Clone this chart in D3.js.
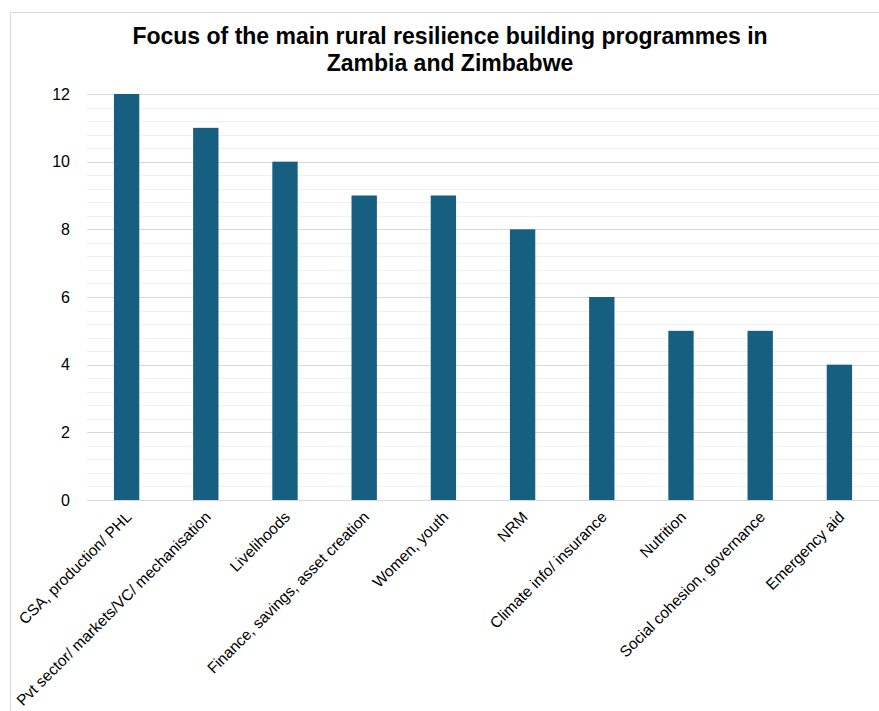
<!DOCTYPE html>
<html>
<head>
<meta charset="utf-8">
<script src="https://cdn.jsdelivr.net/npm/d3@7"></script>
<style>
  body { margin: 0; background: #fff; }
  svg { display: block; font-family: "Liberation Sans", Arial, sans-serif; }
</style>
</head>
<body>
<svg id="chart" width="879" height="711"></svg>
<script>
const categories = [
  "CSA, production/ PHL",
  "Pvt sector/ markets/VC/ mechanisation",
  "Livelihoods",
  "Finance, savings, asset creation",
  "Women, youth",
  "NRM",
  "Climate info/ insurance",
  "Nutrition",
  "Social cohesion, governance",
  "Emergency aid"
];
const counts = [12, 11, 10, 9, 9, 8, 6, 5, 5, 4];
const yTicks = [0, 2, 4, 6, 8, 10, 12];
const titleLines = ["Focus of the main rural resilience building programmes in", "Zambia and Zimbabwe"];

const svg = d3.select("#chart"),
    width = +svg.attr("width"),
    height = +svg.attr("height");

// outer frame, cropped at right and bottom like the original
svg.append("rect")
    .attr("x", 10.5).attr("y", 12.5)
    .attr("width", width + 20).attr("height", height + 20)
    .attr("fill", "#fff")
    .attr("stroke", "#d9d9d9");

const margin = {left: 87, right: 0, top: 94, bottom: 211};

const x = d3.scaleBand()
    .domain(categories)
    .range([margin.left, width - margin.right])
    .paddingInner(0.68)
    .paddingOuter(0.34);

const y = d3.scaleLinear()
    .domain([0, 12])
    .range([height - margin.bottom, margin.top]);

// minor gridlines
svg.append("g")
    .selectAll("line")
    .data(d3.range(0, 12.001, 0.4).filter(v => Math.abs(v / 2 - Math.round(v / 2)) > 1e-6))
    .enter().append("line")
    .attr("x1", margin.left).attr("x2", width)
    .attr("y1", d => Math.round(y(d)) + 0.5).attr("y2", d => Math.round(y(d)) + 0.5)
    .attr("stroke", "#f0f0f0");

// major gridlines
svg.append("g")
    .selectAll("line")
    .data(yTicks)
    .enter().append("line")
    .attr("x1", margin.left).attr("x2", width)
    .attr("y1", d => Math.round(y(d)) + 0.5).attr("y2", d => Math.round(y(d)) + 0.5)
    .attr("stroke", "#d9d9d9");

// y axis labels
const yAxis = svg.append("g")
    .attr("transform", "translate(" + (margin.left - 17) + ",0)")
    .call(d3.axisLeft(y).tickValues(yTicks).tickSize(0).tickPadding(0));
yAxis.select(".domain").remove();
yAxis.selectAll("text")
    .attr("font-size", 16)
    .attr("font-family", "Liberation Sans, Arial, sans-serif")
    .attr("fill", "#000");

// bars
svg.append("g")
    .selectAll("rect")
    .data(counts)
    .enter().append("rect")
    .attr("x", (d, i) => x(categories[i]))
    .attr("y", d => y(d))
    .attr("width", x.bandwidth())
    .attr("height", d => y(0) - y(d))
    .attr("fill", "#175f80");

// x labels, rotated
svg.append("g")
    .selectAll("text")
    .data(categories)
    .enter().append("text")
    .attr("transform", d => "translate(" + (x(d) + x.bandwidth() / 2 + 6) + "," + (y(0) + 18) + ") rotate(-45)")
    .attr("text-anchor", "end")
    .attr("font-size", 15.5)
    .attr("fill", "#000")
    .text(d => d);

// title
svg.append("text")
    .attr("x", 450)
    .attr("y", 44)
    .attr("text-anchor", "middle")
    .attr("font-size", 23)
    .attr("font-weight", "bold")
    .selectAll("tspan")
    .data(titleLines)
    .enter().append("tspan")
    .attr("x", 450)
    .attr("dy", (d, i) => i === 0 ? 0 : 27)
    .text(d => d);
</script>
</body>
</html>
